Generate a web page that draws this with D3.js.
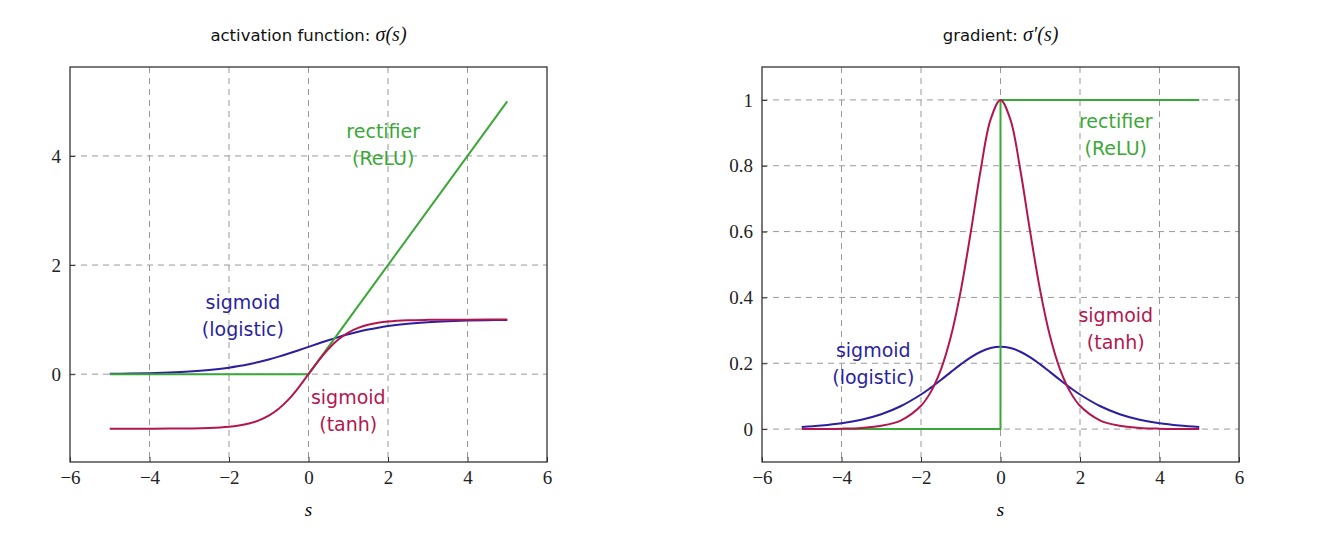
<!DOCTYPE html>
<html lang="en">
<head>
<meta charset="utf-8">
<title>activation functions</title>
<style>
  body { margin: 0; background: #fff; }
  svg text { font-family: "DejaVu Sans", sans-serif; }
  .tick text, .axlab { font-family: "Liberation Serif", "DejaVu Serif", serif; }
</style>
<script src="https://cdn.jsdelivr.net/npm/d3@7"></script>
</head>
<body>
<div id="root"></div>
<script>
  // sample positions and values
  var sVals = [-5,-4.5,-4,-3.5,-3,-2.5,-2,-1.75,-1.5,-1.25,-1,-0.75,-0.5,-0.25,0,0.25,0.5,0.75,1,1.25,1.5,1.75,2,2.5,3,3.5,4,4.5,5];
  var logistic = [0.0067,0.0110,0.0180,0.0293,0.0474,0.0759,0.1192,0.1480,0.1824,0.2227,0.2689,0.3208,0.3775,0.4378,0.5,0.5622,0.6225,0.6792,0.7311,0.7773,0.8176,0.8520,0.8808,0.9241,0.9526,0.9707,0.9820,0.9890,0.9933];
  var tanhV = [-0.9999,-0.9998,-0.9993,-0.9982,-0.9951,-0.9866,-0.9640,-0.9414,-0.9051,-0.8483,-0.7616,-0.6351,-0.4621,-0.2449,0,0.2449,0.4621,0.6351,0.7616,0.8483,0.9051,0.9414,0.9640,0.9866,0.9951,0.9982,0.9993,0.9998,0.9999];
  var logisticGrad = [0.0066,0.0109,0.0177,0.0285,0.0452,0.0701,0.1050,0.1261,0.1491,0.1731,0.1966,0.2179,0.2350,0.2461,0.25,0.2461,0.2350,0.2179,0.1966,0.1731,0.1491,0.1261,0.1050,0.0701,0.0452,0.0285,0.0177,0.0109,0.0066];
  var tanhGrad = [0.0002,0.0005,0.0013,0.0036,0.0099,0.0266,0.0707,0.1138,0.1807,0.2804,0.4200,0.5966,0.7864,0.9400,1,0.9400,0.7864,0.5966,0.4200,0.2804,0.1807,0.1138,0.0707,0.0266,0.0099,0.0036,0.0013,0.0005,0.0002];
  var reluPts = [[-5,0],[0,0],[5,5]];
  var reluGradPts = [[-5,0],[0,0],[0,1],[5,1]];
  var xTicks = [-6,-4,-2,0,2,4,6];
  var yTicksLeft = [0,2,4];
  var yTicksRight = [0,0.2,0.4,0.6,0.8,1];

  var blue = "#2b1fa0", red = "#b3164e", green = "#3aa836";
  var fmt = d => d < 0 ? "\u2212" + (-d) : String(+d.toFixed(2));

  var svg = d3.select("#root").append("svg").attr("width", 1328).attr("height", 536);

  function panel(o) {
    var x = d3.scaleLinear().domain([-6, 6]).range([o.left, o.left + 477]);
    var y = d3.scaleLinear().domain(o.ydom).range([462, 67]);
    var g = svg.append("g");

    // grid
    g.append("g").selectAll("line").data(xTicks.slice(1, -1)).enter().append("line")
      .attr("x1", d => x(d)).attr("x2", d => x(d)).attr("y1", 67).attr("y2", 462)
      .attr("stroke", "#999").attr("stroke-dasharray", "6,5").attr("stroke-width", 1);
    g.append("g").selectAll("line").data(o.yticks).enter().append("line")
      .attr("y1", d => y(d)).attr("y2", d => y(d)).attr("x1", o.left).attr("x2", o.left + 477)
      .attr("stroke", "#999").attr("stroke-dasharray", "6,5").attr("stroke-width", 1);

    var line = d3.line().x(d => x(d[0])).y(d => y(d[1]));
    var smooth = d3.line().x(d => x(d[0])).y(d => y(d[1])).curve(d3.curveCatmullRom);

    g.append("path").attr("d", smooth(sVals.map((s, i) => [s, o.blue[i]])))
      .attr("fill", "none").attr("stroke", blue).attr("stroke-width", 2);
    g.append("path").attr("d", line(o.relu))
      .attr("fill", "none").attr("stroke", green).attr("stroke-width", 2);
    g.append("path").attr("d", smooth(sVals.map((s, i) => [s, o.red[i]])))
      .attr("fill", "none").attr("stroke", red).attr("stroke-width", 2);

    // axes
    var ax = g.append("g").attr("transform", "translate(0,462)")
      .call(d3.axisBottom(x).tickValues(xTicks).tickSize(-5).tickPadding(9).tickFormat(fmt));
    var ay = g.append("g").attr("transform", "translate(" + o.left + ",0)")
      .call(d3.axisLeft(y).tickValues(o.yticks).tickSize(-5).tickPadding(9).tickFormat(fmt));
    [ax, ay].forEach(a => {
      a.select(".domain").remove();
      a.selectAll("line").attr("stroke", "#333");
      a.selectAll("text").attr("font-size", 19).attr("fill", "#222");
    });
    g.append("rect").attr("x", o.left).attr("y", 67).attr("width", 477).attr("height", 395)
      .attr("fill", "none").attr("stroke", "#333").attr("stroke-width", 1.3);

    g.append("text").attr("class", "axlab").attr("x", x(0)).attr("y", 516)
      .attr("text-anchor", "middle").attr("font-size", 19).attr("font-style", "italic").text("s");

    var t = g.append("text").attr("x", x(0)).attr("y", 41).attr("text-anchor", "middle").attr("font-size", 16.5).attr("fill", "#111");
    t.append("tspan").text(o.title);
    t.append("tspan").attr("font-family", "Liberation Serif, serif").attr("font-style", "italic").attr("font-size", 20).text(o.math);

    o.labels.forEach(l => {
      var tx = g.append("text").attr("text-anchor", "middle").attr("font-size", 19).attr("fill", l.c);
      tx.append("tspan").attr("x", x(l.s)).attr("y", y(l.v)).text(l.a);
      tx.append("tspan").attr("x", x(l.s)).attr("dy", 27).text(l.b);
    });
  }

  panel({
    left: 70, ydom: [-1.61, 5.63], yticks: yTicksLeft,
    blue: logistic, red: tanhV, relu: reluPts,
    title: "activation function: ", math: "\u03c3(s)",
    labels: [
      {s: 1.88, v: 4.33, a: "rectifier", b: "(ReLU)", c: green},
      {s: -1.65, v: 1.2, a: "sigmoid", b: "(logistic)", c: blue},
      {s: 1.0, v: -0.55, a: "sigmoid", b: "(tanh)", c: red}
    ]
  });
  panel({
    left: 762, ydom: [-0.1, 1.1], yticks: yTicksRight,
    blue: logisticGrad, red: tanhGrad, relu: reluGradPts,
    title: "gradient: ", math: "\u03c3\u2032(s)",
    labels: [
      {s: 2.9, v: 0.915, a: "rectifier", b: "(ReLU)", c: green},
      {s: 2.9, v: 0.325, a: "sigmoid", b: "(tanh)", c: red},
      {s: -3.2, v: 0.22, a: "sigmoid", b: "(logistic)", c: blue}
    ]
  });
</script>
</body>
</html>
